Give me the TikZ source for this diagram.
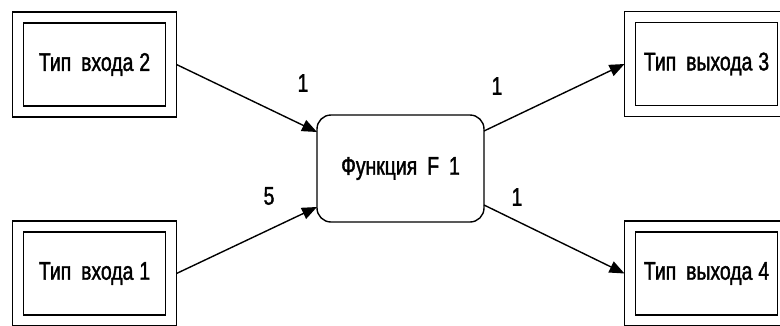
\documentclass[tikz,border=0pt]{standalone}
\usepackage{fontspec}
\setmainfont{Liberation Sans}[FakeStretch=0.76,FakeBold=1.5]
\usetikzlibrary{arrows.meta,fit}
\newcommand{\wordgap}{\hspace{10pt}}
\newcommand{\numgap}{\hspace{6pt}}
\begin{document}
\begin{tikzpicture}[x=1pt,y=-1pt,
  lw/.style={line width=1.4pt},
  txt/.style={font=\fontsize{25.5}{30}\selectfont},
  typebox/.style={draw,lw,txt,minimum width=142pt,minimum height=83pt,inner sep=0pt,outer sep=0pt},
  frame/.style={draw,lw,inner sep=11pt,outer sep=0pt},
  func/.style={draw,lw,txt,rounded corners=14pt,minimum width=167pt,minimum height=107pt,inner sep=0pt,outer sep=0pt},
  link/.style={lw,-{Triangle[length=15pt,width=12pt]}},
  num/.style={txt,inner sep=0pt}]
\useasboundingbox (0,0) rectangle (780,325);
\clip (0,0) rectangle (780,325);
\node[typebox] (in2) at (94.5,64.5) {Тип\wordgap входа\numgap 2};
\node[typebox] (in1) at (94.5,273.5) {Тип\wordgap входа\numgap 1};
\node[typebox] (out3) at (706.5,64) {Тип\wordgap выхода\numgap 3};
\node[typebox] (out4) at (706.5,273.5) {Тип\wordgap выхода\numgap 4};
\node[frame,fit=(in2)] (A2) {};
\node[frame,fit=(in1)] (A1) {};
\node[frame,fit=(out3)] (B3) {};
\node[frame,fit=(out4)] (B4) {};
\node[func] (F) at (400.5,168.5) {Функция\wordgap F\wordgap 1};
\draw[link] (A2.east) -- ([yshift=36.5pt]F.west);
\draw[link] (A1.east) -- ([yshift=-38.5pt]F.west);
\draw[link] ([yshift=37.5pt]F.east) -- (B3.west);
\draw[link] ([yshift=-36.5pt]F.east) -- (B4.west);
\node[num] (l1) at (303,83) {1};
\node[num] (l5) at (269,196) {5};
\node[num] (l3) at (497,86) {1};
\node[num] (l4) at (517,197) {1};
\end{tikzpicture}
\end{document}
